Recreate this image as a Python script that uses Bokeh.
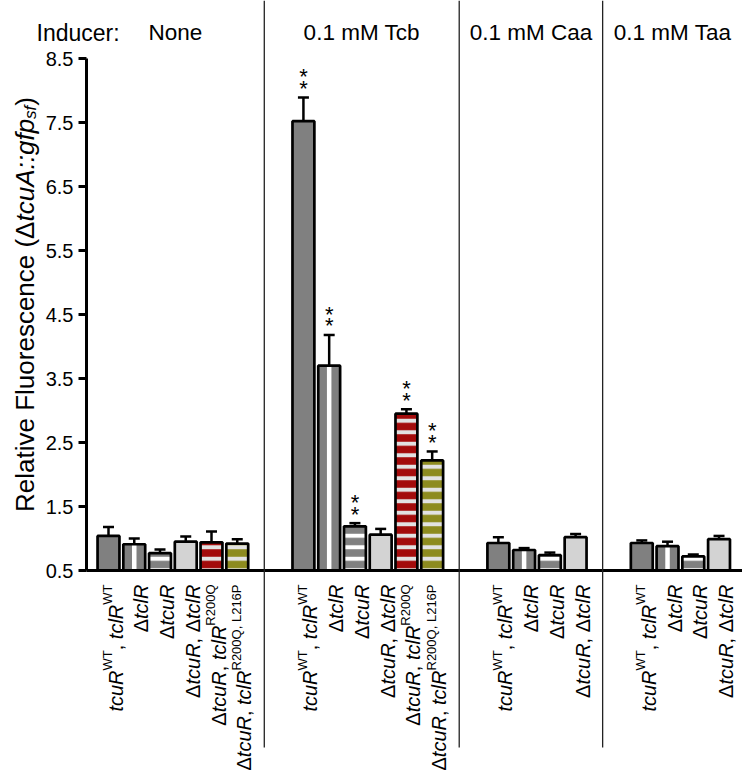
import math
from bokeh.plotting import figure
from bokeh.models import (Range1d, FixedTicker, Label, ColumnDataSource,
                          Whisker, TeeHead)
from bokeh.core.properties import value
from bokeh.embed import file_html
from bokeh.resources import INLINE

# ---------------- data ----------------
groups = ["None", "0.1 mM Tcb", "0.1 mM Caa", "0.1 mM Taa"]
group_strains = [[0, 1, 2, 3, 4, 5], [0, 1, 2, 3, 4, 5], [0, 1, 2, 3], [0, 1, 2, 3]]

values_none = [1.04, 0.91, 0.77, 0.95, 0.94, 0.92]
errors_none = [0.14, 0.09, 0.06, 0.08, 0.17, 0.07]
values_tcb = [7.52, 3.70, 1.19, 1.06, 2.95, 2.22]
errors_tcb = [0.37, 0.48, 0.05, 0.09, 0.07, 0.14]
values_caa = [0.93, 0.82, 0.74, 1.02]
errors_caa = [0.09, 0.03, 0.04, 0.05]
values_taa = [0.93, 0.88, 0.72, 0.99]
errors_taa = [0.04, 0.07, 0.03, 0.05]
signif_none = [False] * 6
signif_tcb = [True, True, True, False, True, True]
signif_caa = [False] * 4
signif_taa = [False] * 4

y_ticks = [0.5, 1.5, 2.5, 3.5, 4.5, 5.5, 6.5, 7.5, 8.5]

# strain tick labels: (text, style) with style i=italic, r=regular, sup=superscript
strain_labels = [
    [("tcuR", "i"), ("WT", "sup"), (", ", "r"), ("tclR", "i"), ("WT", "sup")],
    [("Δ", "r"), ("tclR", "i")],
    [("Δ", "r"), ("tcuR", "i")],
    [("Δ", "r"), ("tcuR", "i"), (", ", "r"), ("Δ", "r"), ("tclR", "i")],
    [("Δ", "r"), ("tcuR", "i"), (", ", "r"), ("tclR", "i"), ("R200Q", "sup")],
    [("Δ", "r"), ("tcuR", "i"), (", ", "r"), ("tclR", "i"), ("R200Q, L216P", "sup")],
]

y_label_parts = [("Relative Fluorescence (", "normal", "main"), ("Δ", "normal", "main"),
                 ("tcuA::gfp", "italic", "main"), ("sf", "italic", "sub"), (")", "normal", "main")]

all_values = [values_none, values_tcb, values_caa, values_taa]
all_errors = [errors_none, errors_tcb, errors_caa, errors_taa]
all_signif = [signif_none, signif_tcb, signif_caa, signif_taa]

# ---------------- styles / layout ----------------
FONT = "Liberation Sans"
strain_fill = ["#808080", "#808080", "#808080", "#d3d3d3", "#a30b0b", "#8d8b1f"]
strain_hatch = [None, None, "white", None, "#e2e2e2", "#e2e2e2"]
strain_vstripe = [False, True, False, False, False, False]

FIG_W, FIG_H = 742, 777
PX_X, PX_Y = 25.75, 64.0  # pixels per data unit
AXIS_PX = 86              # canvas px of the y axis
BASE_PY = 570             # canvas px of y=0.5
FIRST_BAR_PX = 108
GROUP_GAP = 1.57
BAR_W = 0.85

x_start = -FIRST_BAR_PX / PX_X
x_end = x_start + FIG_W / PX_X
y_start = 0.5 - (FIG_H - BASE_PY) / PX_Y
y_end = y_start + FIG_H / PX_Y


def py_to_y(py):
    return 0.5 + (BASE_PY - py) / PX_Y


def px_to_x(px):
    return x_start + px / PX_X


W = {' ': 278, ',': 278, '.': 278, ':': 278, '(': 333, ')': 333, 'Δ': 668,
     'A': 667, 'C': 722, 'F': 611, 'L': 556, 'M': 833, 'N': 722, 'P': 667, 'Q': 778,
     'R': 722, 'T': 611, 'W': 944,
     'a': 556, 'b': 556, 'c': 500, 'd': 556, 'e': 556, 'f': 278, 'g': 556, 'i': 222,
     'l': 222, 'm': 833, 'n': 556, 'o': 556, 'p': 556, 'r': 333, 's': 500, 't': 278,
     'u': 556, 'v': 500}


def tw(s, size):
    return sum(W.get(ch, 556) for ch in s) * size / 1000.0


p = figure(width=FIG_W, height=FIG_H, output_backend="svg", toolbar_location=None,
           x_range=Range1d(x_start, x_end), y_range=Range1d(y_start, y_end),
           x_axis_location=None, min_border_left=0, min_border_right=0,
           min_border_top=0, min_border_bottom=0)
p.outline_line_color = None
p.xgrid.grid_line_color = None
p.ygrid.grid_line_color = None
p.background_fill_color = "white"

yaxis = p.yaxis[0]
yaxis.fixed_location = px_to_x(AXIS_PX)
yaxis.bounds = (0.5, 8.5)
yaxis.ticker = FixedTicker(ticks=y_ticks, minor_ticks=[])
yaxis.axis_line_width = 3
yaxis.axis_line_color = "black"
yaxis.major_tick_line_width = 3
yaxis.major_tick_line_color = "black"
yaxis.major_tick_out = 8
yaxis.major_tick_in = 0
yaxis.minor_tick_line_color = None
yaxis.major_label_text_font = FONT
yaxis.major_label_text_font_size = "20px"
yaxis.major_label_text_color = "black"
yaxis.major_label_standoff = 5

# positions
group_start = []
s = 0.0
for g, ids in enumerate(group_strains):
    group_start.append(s)
    s += len(ids) + GROUP_GAP

STAR_LOW_PX, STAR_STEP_PX = 9.0, 11.7
rows = {k: [] for k in range(6)}
err_src = dict(x=[], upper=[], lower=[])
star_x, star_y = [], []
for g, ids in enumerate(group_strains):
    for i, sid in enumerate(ids):
        x = group_start[g] + i
        v = all_values[g][i]
        e = all_errors[g][i]
        rows[sid].append((x, v))
        err_src["x"].append(x)
        err_src["upper"].append(v + e)
        err_src["lower"].append(v - e)
        if all_signif[g][i]:
            star_x += [x, x]
            star_y += [v + e + STAR_LOW_PX / PX_Y, v + e + (STAR_LOW_PX + STAR_STEP_PX) / PX_Y]

# bars
for sid in range(6):
    xs = [r[0] for r in rows[sid]]
    tops = [r[1] for r in rows[sid]]
    src = ColumnDataSource(dict(x=xs, top=tops))
    kw = {}
    if strain_hatch[sid]:
        kw = dict(hatch_pattern="horizontal_line", hatch_color=strain_hatch[sid],
                  hatch_scale=11.5, hatch_weight=4)
    p.vbar(x="x", top="top", bottom=0.5, width=BAR_W, source=src,
           fill_color=strain_fill[sid], line_color=None, **kw)
    if strain_vstripe[sid]:
        p.vbar(x="x", top="top", bottom=0.5, width=4.5 / PX_X, source=src,
               fill_color="white", line_color=None)
    p.vbar(x="x", top="top", bottom=0.5, width=BAR_W, source=src,
           fill_color=None, line_color="black", line_width=2.7)

esrc = ColumnDataSource(err_src)
p.add_layout(Whisker(source=esrc, base="x", upper="upper", lower="lower",
                     line_width=2.5, line_color="black",
                     upper_head=TeeHead(size=11, line_width=2.5, line_color="black"),
                     lower_head=TeeHead(size=11, line_width=2.5, line_color="black")))

p.text(x=star_x, y=star_y, text=["*"] * len(star_x), text_font=value(FONT),
       text_font_size="22px", text_align="center", text_baseline="alphabetic",
       text_color="black")

# baseline
p.segment(x0=[px_to_x(AXIS_PX)], x1=[x_end], y0=[0.5], y1=[0.5],
          line_width=3, line_color="black")

# separators
sep_x = []
for g in range(len(group_strains) - 1):
    sep_x.append(group_start[g] + len(group_strains[g]) - 1 + 1.05)
p.segment(x0=sep_x, x1=sep_x, y0=[y_end] * len(sep_x), y1=[py_to_y(747)] * len(sep_x),
          line_color="#222222", line_width=1.3)

# header texts, centred in each section
HEAD_PY = 32
bounds = [px_to_x(AXIS_PX)] + sep_x + [x_end]
gc = [(bounds[g] + bounds[g + 1]) / 2 for g in range(len(groups))]
p.text(x=gc, y=[py_to_y(HEAD_PY)] * len(gc), text=groups, text_font=value(FONT),
       text_font_size="22.5px", text_align="center", text_baseline="alphabetic",
       text_color="black")
p.add_layout(Label(x=px_to_x(36), y=py_to_y(HEAD_PY), text="Inducer:", text_font=FONT,
                   text_font_size="23px", text_align="left", text_baseline="alphabetic",
                   text_color="black"))

# x tick labels (rotated, mixed styles)
MAIN, SUP, SUP_RAISE = 20, 13, 8
LABEL_END_PY = 584
LABEL_BASE_DX = 7
lab = {st: dict(x=[], y=[], text=[]) for st in ("i", "r", "sup")}
for g, ids in enumerate(group_strains):
    for i, sid in enumerate(ids):
        x = group_start[g] + i
        pieces = strain_labels[sid]
        widths = [tw(t, SUP if st == "sup" else MAIN) for t, st in pieces]
        L = sum(widths)
        start_py = LABEL_END_PY + L
        c = 0.0
        for (t, st), w in zip(pieces, widths):
            dx = LABEL_BASE_DX - (SUP_RAISE if st == "sup" else 0)
            lab[st]["x"].append(x + dx / PX_X)
            lab[st]["y"].append(py_to_y(start_py - c))
            lab[st]["text"].append(t)
            c += w
for st, style, size in (("i", "italic", MAIN), ("r", "normal", MAIN), ("sup", "normal", SUP)):
    p.text(x="x", y="y", text="text", source=ColumnDataSource(lab[st]), angle=math.pi / 2,
           text_font=value(FONT), text_font_style=style, text_font_size=f"{size}px",
           text_align="left", text_baseline="alphabetic", text_color="black")

# y axis label (rotated, mixed styles)
YL_MAIN, YL_SUB, YL_SUB_DROP = 26, 17, 6
YL_BASE_PX = 24
YL_CENTER_PY = 304
yl_w = [tw(t, YL_MAIN if kind == "main" else YL_SUB) for t, _, kind in y_label_parts]
yl_start = YL_CENTER_PY + sum(yl_w) / 2
c = 0.0
for (t, style, kind), w in zip(y_label_parts, yl_w):
    bx = YL_BASE_PX + (YL_SUB_DROP if kind == "sub" else 0)
    p.add_layout(Label(x=px_to_x(bx), y=py_to_y(yl_start - c), text=t, angle=math.pi / 2,
                       text_font=FONT, text_font_style=style,
                       text_font_size=f"{YL_MAIN if kind == 'main' else YL_SUB}px",
                       text_align="left", text_baseline="alphabetic", text_color="black"))
    c += w

open("out.html", "w").write(file_html(p, INLINE))
